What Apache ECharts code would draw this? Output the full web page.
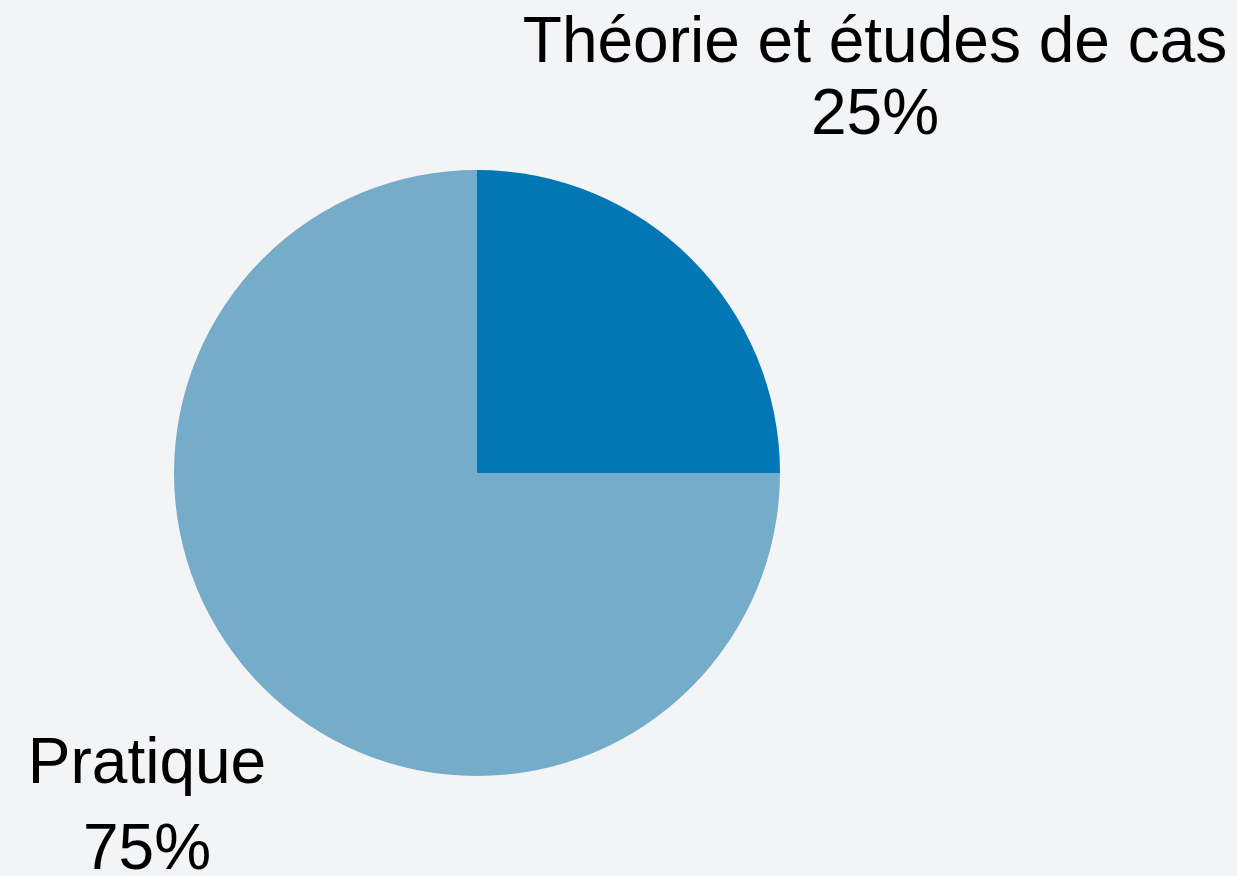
<!DOCTYPE html>
<html>
<head>
<meta charset="utf-8">
<script src="https://cdn.jsdelivr.net/npm/echarts@6/dist/echarts.min.js"></script>
<style>
html,body{margin:0;padding:0;background:#f3f4f6;}
#chart{width:1237px;height:876px;}
</style>
</head>
<body>
<div id="chart"></div>
<script>
const categories = ['Théorie et études de cas', 'Pratique'];
const values = [25, 75];
const colors = ['#0277b5', '#74acca'];
const labelPos = [
  { x: 875, y: 80, lineHeight: 72 },
  { x: 147, y: 808, lineHeight: 86 }
];

const chart = echarts.init(document.getElementById('chart'));
chart.setOption({
  backgroundColor: '#f3f4f6',
  animation: false,
  series: [{
    type: 'pie',
    center: [477, 473],
    radius: 303,
    startAngle: 90,
    clockwise: true,
    avoidLabelOverlap: false,
    data: categories.map((c, i) => ({
      name: c,
      value: values[i],
      itemStyle: { color: colors[i] },
      label: { lineHeight: labelPos[i].lineHeight }
    })),
    itemStyle: { borderWidth: 0 },
    emphasis: { disabled: true },
    label: {
      show: true,
      position: 'outside',
      formatter: '{b}\n{d}%',
      fontFamily: 'Liberation Sans',
      fontSize: 64,
      color: '#000',
      align: 'center'
    },
    labelLine: { show: false },
    labelLayout: function (params) {
      const p = labelPos[params.dataIndex];
      return { x: p.x, y: p.y, align: 'center', verticalAlign: 'middle' };
    }
  }]
});
</script>
</body>
</html>
